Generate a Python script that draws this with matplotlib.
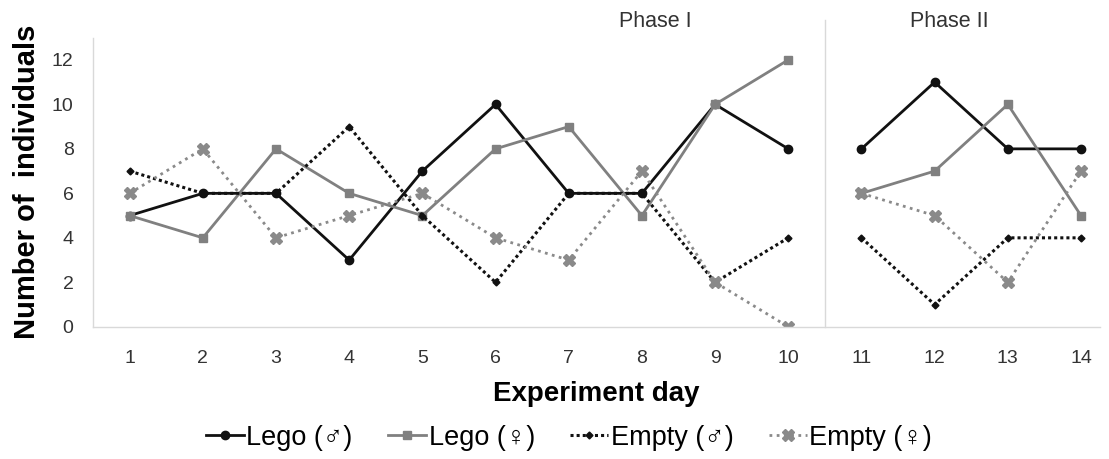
import numpy as np
import matplotlib.pyplot as plt
from matplotlib.transforms import blended_transform_factory

plt.rcParams['font.family'] = ['Liberation Sans', 'Noto Sans CJK JP', 'DejaVu Sans']

# 数据
days = np.arange(1, 15)
lego_m = [5, 6, 6, 3, 7, 10, 6, 6, 10, 8, 8, 11, 8, 8]
lego_f = [5, 4, 8, 6, 5, 8, 9, 5, 10, 12, 6, 7, 10, 5]
empty_m = [7, 6, 6, 9, 5, 2, 6, 6, 2, 4, 4, 1, 4, 4]
empty_f = [6, 8, 4, 5, 6, 4, 3, 7, 2, 0, 6, 5, 2, 7]
phase_names = ['Phase I', 'Phase II']
phase_split = 10

series = [
    (lego_m, 'Lego (♂)', dict(color='#111111', ls='-', marker='o', ms=6, lw=2)),
    (lego_f, 'Lego (♀)', dict(color='#808080', ls='-', marker='s', ms=6, lw=2)),
    (empty_m, 'Empty (♂)', dict(color='#111111', ls=(0, (1, 1)), marker='D', ms=3.5, lw=2.2)),
    (empty_f, 'Empty (♀)', dict(color='#8a8a8a', ls=(0, (1, 1.6)), marker='X', ms=9, lw=2)),
]

fig = plt.figure(figsize=(11.09, 4.59), dpi=100)
ax = fig.add_axes([0.0839, 0.288, 0.908, 0.63])

for vals, label, style in series:
    vals = np.array(vals, dtype=float)
    # 两个阶段分开画
    ax.plot(days[:phase_split], vals[:phase_split], label=label, **style)
    ax.plot(days[phase_split:], vals[phase_split:], **style)

ax.set_xlim(0.5, 14.26)
ax.set_ylim(0, 13)
ax.set_xticks(days)
ax.set_yticks(range(0, 13, 2))
ax.tick_params(axis='both', length=0, labelsize=14, colors='#333333')
ax.tick_params(axis='x', pad=17)
ax.tick_params(axis='y', pad=14)

for s in ['top', 'right']:
    ax.spines[s].set_visible(False)
for s in ['left', 'bottom']:
    ax.spines[s].set_color('#d9d9d9')
    ax.spines[s].set_linewidth(1)

ax.axvline(phase_split + 0.5, ymin=0, ymax=1.06, color='#d9d9d9', lw=1, clip_on=False)

trans = blended_transform_factory(ax.transData, ax.transAxes)
ax.text(8.18, 1.055, phase_names[0], transform=trans, ha='center', va='center',
        fontsize=15.5, color='#333333')
ax.text(12.2, 1.055, phase_names[1], transform=trans, ha='center', va='center',
        fontsize=15.5, color='#333333')

ax.set_xlabel('Experiment day', fontsize=20, fontweight='bold', labelpad=10)
ax.set_ylabel('Number of  individuals', fontsize=21, fontweight='bold', labelpad=8)

fig.legend(loc='center', bbox_to_anchor=(0.513, 0.046), ncol=4, frameon=False,
           fontsize=19.5, handlelength=1.4, handletextpad=0.1, columnspacing=1.3)

plt.savefig('out.png', dpi=100)
plt.close()
